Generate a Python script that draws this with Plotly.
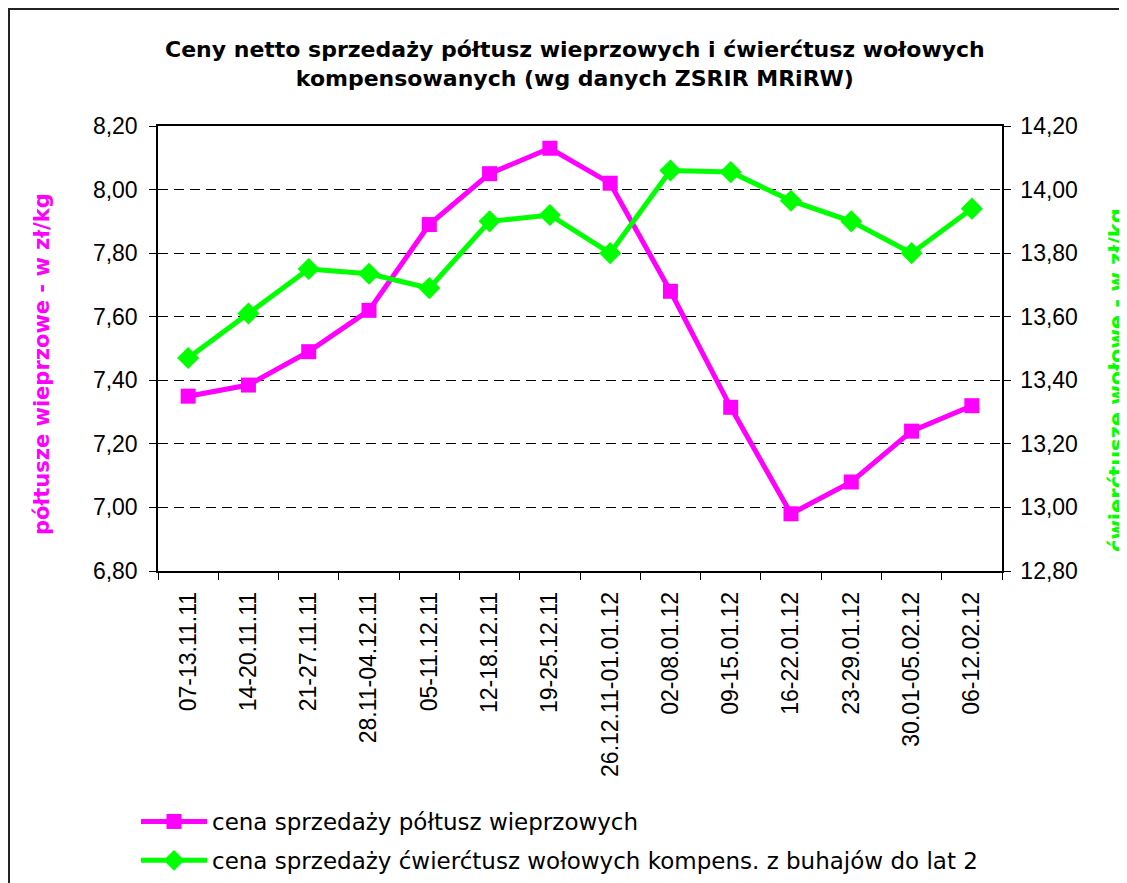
import plotly.graph_objects as go

categories = ["07-13.11.11", "14-20.11.11", "21-27.11.11", "28.11-04.12.11", "05-11.12.11",
              "12-18.12.11", "19-25.12.11", "26.12.11-01.01.12", "02-08.01.12", "09-15.01.12",
              "16-22.01.12", "23-29.01.12", "30.01-05.02.12", "06-12.02.12"]
pork = [7.35, 7.385, 7.49, 7.62, 7.89, 8.05, 8.13, 8.02, 7.68, 7.315, 6.98, 7.08, 7.24, 7.32]
beef = [13.47, 13.61, 13.75, 13.735, 13.69, 13.90, 13.92, 13.80, 14.06, 14.055, 13.965, 13.90, 13.80, 13.94]

pork_name = "cena sprzedaży półtusz wieprzowych"
beef_name = "cena sprzedaży ćwierćtusz wołowych kompens. z buhajów do lat 2"
title_text = "Ceny netto sprzedaży półtusz wieprzowych i ćwierćtusz wołowych<br>kompensowanych (wg danych ZSRIR MRiRW)"
left_title = "półtusze wieprzowe - w zł/kg"
right_title = "ćwierćtusze wołowe - w zł/kg"

MAG = "#FF00FF"
GRN = "#00FF00"
FONT = "Liberation Sans, Arial, sans-serif"
WFONT = "DejaVu Sans, Liberation Sans, sans-serif"

fig = go.Figure()
fig.add_trace(go.Scatter(x=categories, y=pork, name=pork_name, mode="lines+markers",
                         line=dict(color=MAG, width=5),
                         marker=dict(symbol="square", size=15, color=MAG),
                         legendgroup="a", yaxis="y"))
fig.add_trace(go.Scatter(x=categories, y=beef, name=beef_name, mode="lines+markers",
                         line=dict(color=GRN, width=5),
                         marker=dict(symbol="diamond", size=17, color=GRN),
                         legendgroup="b", yaxis="y2"))

# page is shown with an 8px body offset; targets below are in screen pixels
OFF = 8
PL, PR, PT, PB = 158, 1002, 126, 571   # plot area on screen
W, H = 1127, 883
pw = PR - PL
ph = PB - PT
L = PL - OFF
T = PT - OFF
R = W - L - pw
B = H - T - ph

def px(xs):
    return (xs - PL) / pw

def py(ys):
    return (PB - ys) / ph

fig.update_layout(
    width=W, height=H,
    margin=dict(l=L, r=R, t=T, b=B, pad=0, autoexpand=False),
    paper_bgcolor="white", plot_bgcolor="white",
    separators=", ",
    font=dict(family=FONT, size=23, color="black"),
    showlegend=True,
    legend=dict(x=px(136), y=py(800), xanchor="left", yanchor="top",
                font=dict(size=23, family=WFONT, color="black"), traceorder="grouped",
                tracegroupgap=6, itemwidth=66, bgcolor="rgba(0,0,0,0)"),
    xaxis=dict(type="category", tickangle=-90, showline=True, linecolor="black", linewidth=1.5,
               mirror=True, ticks="outside", ticklen=7, tickcolor="black", tickson="boundaries",
               showgrid=False, tickfont=dict(size=23), ticklabelstandoff=10, automargin=False,
               range=[-0.5, len(categories) - 0.5]),
    yaxis=dict(range=[6.8, 8.2], dtick=0.2, tickformat=".2f", showline=True, linecolor="black",
               linewidth=1.5, ticks="outside", ticklen=7, tickcolor="black",
               showgrid=True, gridcolor="black", griddash="10px,6px", gridwidth=1,
               tickfont=dict(size=23), ticklabelstandoff=7, zeroline=False, automargin=False),
    yaxis2=dict(range=[12.8, 14.2], dtick=0.2, tickformat=".2f", overlaying="y", side="right",
                showline=True, linecolor="black", linewidth=1.5, ticks="outside", ticklen=7,
                tickcolor="black", showgrid=False, tickfont=dict(size=23),
                ticklabelstandoff=5, zeroline=False, automargin=False),
)

fig.add_annotation(text="<b>" + title_text + "</b>", xref="paper", yref="paper",
                   x=px(575), y=py(64), xanchor="center", yanchor="middle", showarrow=False,
                   font=dict(size=22, family=WFONT, color="black"), align="center")
fig.add_annotation(text="<b>" + left_title + "</b>", xref="paper", yref="paper",
                   x=px(42), y=py(364), xanchor="center", yanchor="middle", showarrow=False,
                   textangle=-90, font=dict(size=21, family=WFONT, color=MAG))
fig.add_annotation(text="<b>" + right_title + "</b>", xref="paper", yref="paper",
                   x=px(1117), y=py(380), xanchor="center", yanchor="middle", showarrow=False,
                   textangle=-90, font=dict(size=21, family=WFONT, color=GRN))

fig.add_shape(type="rect", xref="paper", yref="paper",
              x0=px(9), x1=px(1120), y0=py(1300), y1=py(9),
              line=dict(color="#222222", width=2), fillcolor="rgba(0,0,0,0)", layer="below")

fig.write_html("out.html")
